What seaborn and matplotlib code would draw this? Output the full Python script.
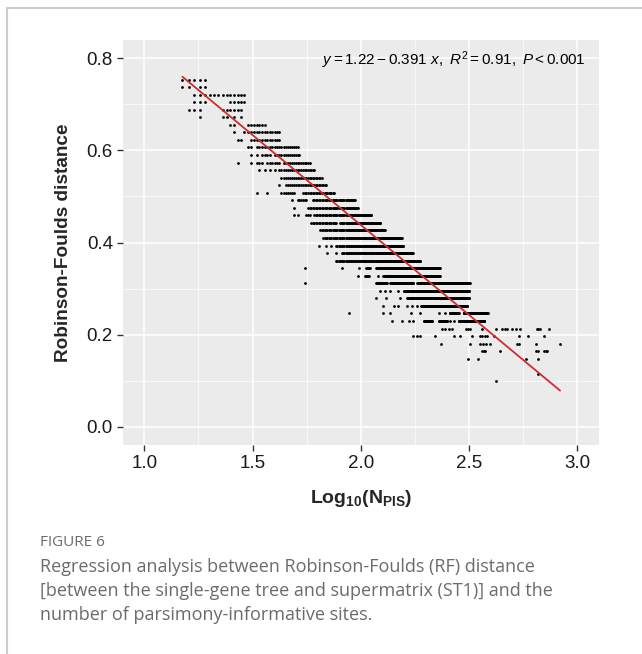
"""RF distance vs number of parsimony-informative sites."""
import numpy as np
import pandas as pd
import matplotlib
matplotlib.use("Agg")
import matplotlib.pyplot as plt
import seaborn as sns
from matplotlib.lines import Line2D
from matplotlib.ticker import MultipleLocator

# RF distance steps (numerator over rf_denom) and the N_PIS values seen on each step
rf_denom = 61
rf_steps = [46, 45, 44, 43, 42, 41, 40, 39, 38, 37, 36, 35, 34, 33, 32, 31, 30, 29, 28, 27,
            26, 25, 24, 23, 22, 21, 20, 19, 18, 17, 16, 15, 14, 13, 12, 11, 10, 9, 7, 6]
npis_runs = [
    "15-19",
    "15-16 18-19",
    "17-29",
    "17-19 25-29",
    "16-18 23-28",
    "18 23-24 26 28",
    "25-26 30-36",
    "26 29-42",
    "27-28 31-42",
    "30-31 33-51",
    "31 33 35-38 40-52",
    "27 31 33-35 37-42 44-58",
    "34 36 38 40 42-61",
    "43-66",
    "42 45-69",
    "33 37 43-49 54-75",
    "48 51-56 60-94",
    "49 57-97",
    "49 51 56-58 61-112",
    "59-77 80-123",
    "65-129",
    "67-155",
    "64 69 73 77-157",
    "70 77 82-174",
    "77-188",
    "55 82 98 106-110 118-231",
    "97 105-109 120 127-231",
    "55 118-132 137-175 182-318",
    "123 129 137 148 158-316",
    "117 130 152 164-316",
    "127 142 149 163 172 182 190-310",
    "88 127 137 170 187 229 244 257-283 298-385",
    "139 155 167 175 195-214 229-250 257 268 283-372",
    "237 245 255 264 307 314 321 363 419 450 462 474 497 520 543 649 660 672 740",
    "175 181 188 221 268 286 327 354 364 374 383 411 537 594 701",
    "235 321 354 366 378 397 524 537 642 832",
    "363 370 376 438 642 658 701 714 727",
    "311 347 581 661",
    "658",
    "422",
]

# fitted regression reported on the chart
fit_intercept = 1.22
fit_slope = -0.391

rows = []
for step, runs in zip(rf_steps, npis_runs):
    for part in runs.split():
        lo, _, hi = part.partition("-")
        for n in range(int(lo), int(hi or lo) + 1):
            rows.append((np.log10(n), step / rf_denom))
df = pd.DataFrame(rows, columns=["log_npis", "rf"])

fit_x = np.array([df["log_npis"].min(), df["log_npis"].max()])
df_fit = pd.DataFrame({"log_npis": fit_x, "rf": fit_intercept + fit_slope * fit_x})

sns.set_theme(style="darkgrid", rc={"axes.facecolor": "#EBEBEB"})
plt.rcParams["font.family"] = ["Liberation Sans", "DejaVu Sans"]
plt.rcParams["mathtext.fontset"] = "custom"
plt.rcParams["mathtext.rm"] = "Liberation Sans"
plt.rcParams["mathtext.it"] = "Liberation Sans:italic"
plt.rcParams["mathtext.bf"] = "Liberation Sans:bold"

fig = plt.figure(figsize=(6.42, 6.54), dpi=100)
ax = fig.add_axes([0.1911, 0.3196, 0.7419, 0.6192])

sns.scatterplot(data=df, x="log_npis", y="rf", color="black", s=4, linewidth=0, ax=ax)
sns.lineplot(data=df_fit, x="log_npis", y="rf", color="#C8302C", lw=1.3, ax=ax)

ax.set_xlim(0.9, 3.1)
ax.set_ylim(-0.04, 0.84)
ax.set_xticks([1.0, 1.5, 2.0, 2.5, 3.0])
ax.set_xticklabels(["1.0", "1.5", "2.0", "2.5", "3.0"])
ax.set_yticks([0.0, 0.2, 0.4, 0.6, 0.8])
ax.set_yticklabels(["0.0", "0.2", "0.4", "0.6", "0.8"])
ax.xaxis.set_minor_locator(MultipleLocator(0.25))
ax.yaxis.set_minor_locator(MultipleLocator(0.1))
ax.grid(which="major", color="white", lw=1.1)
ax.grid(which="minor", color="white", lw=0.5)
ax.tick_params(which="major", length=4, width=1, color="#333333", labelsize=13.5,
               labelcolor="#1a1a1a", pad=3, bottom=True, left=True)
ax.tick_params(which="minor", length=0)
for sp in ax.spines.values():
    sp.set_visible(False)

ax.set_xlabel(r"$\mathbf{Log}_{\mathbf{10}}\mathbf{(N}_{\mathbf{PIS}}\mathbf{)}$", fontsize=14)
ax.set_ylabel("Robinson-Foulds distance", fontsize=13.7, fontweight="bold")
ax.xaxis.set_label_coords(0.5, -0.105)
ax.yaxis.set_label_coords(-0.106, 0.5)

ax.text(3.04, 0.797, r"$y = 1.22 - 0.391\ x,\ R^2 = 0.91,\ P < 0.001$",
        ha="right", va="center", fontsize=11, color="black")

# caption and frame
fig.text(0.062, 1 - 542 / 654, "FIGURE 6", fontsize=11, color="#6b6b6b",
         family="Open Sans", va="center")
caption = ("Regression analysis between Robinson-Foulds (RF) distance\n"
           "[between the single-gene tree and supermatrix (ST1)] and the\n"
           "number of parsimony-informative sites.")
fig.text(0.062, 1 - 558 / 654, caption, fontsize=13, color="#6b6b6b",
         family="Open Sans", va="top", linespacing=1.42)
fig.add_artist(Line2D([7 / 642, 7 / 642], [0, 1 - 8 / 654], color="#cccccc", lw=1.5))
fig.add_artist(Line2D([7 / 642, 1], [1 - 8 / 654, 1 - 8 / 654], color="#cccccc", lw=1.5))

fig.savefig("out.png", dpi=100)
